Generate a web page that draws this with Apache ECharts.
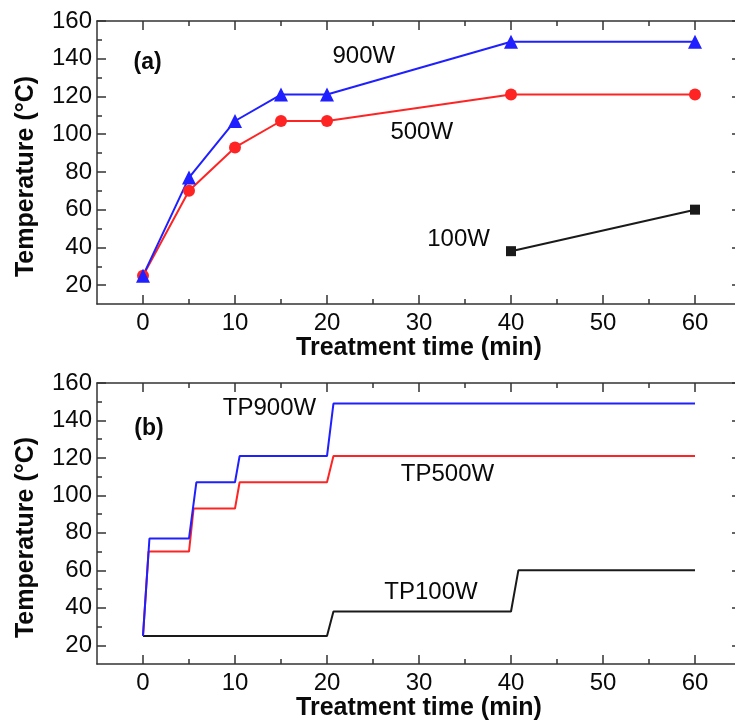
<!DOCTYPE html>
<html>
<head>
<meta charset="utf-8">
<script src="https://cdn.jsdelivr.net/npm/echarts@6/dist/echarts.min.js"></script>
<style>
html, body { margin: 0; padding: 0; background: #fff; }
#chart { width: 735px; height: 728px; }
</style>
</head>
<body>
<div id="chart"></div>
<script>
// ---- tick values ----
let xTicks = [0, 10, 20, 30, 40, 50, 60];
let xMinor = [5, 15, 25, 35, 45, 55];
let yTicks = [20, 40, 60, 80, 100, 120, 140, 160];
let yMinor = [30, 50, 70, 90, 110, 130, 150];

// ---- panel (a): measured temperatures ----
let timeA = [0, 5, 10, 15, 20, 40, 60];
let temp900A = [25, 77, 107, 121, 121, 149, 149];
let temp500A = [25, 70, 93, 107, 107, 121, 121];
let time100A = [40, 60];
let temp100A = [38, 60];

// ---- panel (b): temperature profiles ----
let time900B = [0, 0.7, 5, 5.8, 10, 10.5, 20, 20.7, 60];
let temp900B = [25, 77, 77, 107, 107, 121, 121, 149, 149];
let time500B = [0, 0.6, 5, 5.5, 10, 10.5, 20, 20.7, 60];
let temp500B = [25, 70, 70, 93, 93, 107, 107, 121, 121];
let time100B = [0, 20, 20.7, 40, 40.8, 60];
let temp100B = [25, 25, 38, 38, 60, 60];

let font = 'Liberation Sans, Arial, sans-serif';
let frame = { color: '#333', width: 1.5 };
let blue = '#1f1fff';
let red = '#ff2424';
let black = '#1a1a1a';

function zip(xs, ys) {
  return xs.map((x, i) => [x, ys[i]]);
}

// four x axes and four y axes per grid: main + minor ticks on each side
function xAxes(g, nameGap) {
  let base = { type: 'value', gridIndex: g, min: -5, max: 65, splitLine: { show: false } };
  return [
    Object.assign({}, base, {
      position: 'bottom',
      axisLine: { onZero: false, lineStyle: frame },
      axisTick: { inside: true, length: 9, customValues: xTicks, lineStyle: frame },
      axisLabel: { customValues: xTicks, fontSize: 24, fontFamily: font, color: '#0a0a0a', margin: 7 },
      name: 'Treatment time (min)', nameLocation: 'middle', nameGap: nameGap,
      nameTextStyle: { fontSize: 25, fontWeight: 'bold', fontFamily: font, color: '#0a0a0a' }
    }),
    Object.assign({}, base, {
      position: 'bottom', axisLine: { show: false, onZero: false }, axisLabel: { show: false },
      axisTick: { inside: true, length: 5, customValues: xMinor, lineStyle: frame }
    }),
    Object.assign({}, base, {
      position: 'top', axisLine: { onZero: false, lineStyle: frame }, axisLabel: { show: false },
      axisTick: { inside: true, length: 9, customValues: xTicks, lineStyle: frame }
    }),
    Object.assign({}, base, {
      position: 'top', axisLine: { show: false, onZero: false }, axisLabel: { show: false },
      axisTick: { inside: true, length: 5, customValues: xMinor, lineStyle: frame }
    })
  ];
}

function yAxes(g) {
  let base = { type: 'value', gridIndex: g, min: 10, max: 160, splitLine: { show: false } };
  return [
    Object.assign({}, base, {
      position: 'left',
      axisLine: { onZero: false, lineStyle: frame },
      axisTick: { inside: true, length: 9, customValues: yTicks, lineStyle: frame },
      axisLabel: { customValues: yTicks, fontSize: 24, fontFamily: font, color: '#0a0a0a', margin: 5 },
      name: 'Temperature (°C)', nameLocation: 'middle', nameGap: 58,
      nameTextStyle: { fontSize: 25, fontWeight: 'bold', fontFamily: font, color: '#0a0a0a', padding: [0, 28, 0, 0] }
    }),
    Object.assign({}, base, {
      position: 'left', axisLine: { show: false, onZero: false }, axisLabel: { show: false },
      axisTick: { inside: true, length: 5, customValues: yMinor, lineStyle: frame }
    }),
    Object.assign({}, base, {
      position: 'right', axisLine: { onZero: false, lineStyle: frame }, axisLabel: { show: false },
      axisTick: { inside: true, length: 9, customValues: yTicks, lineStyle: frame }
    }),
    Object.assign({}, base, {
      position: 'right', axisLine: { show: false, onZero: false }, axisLabel: { show: false },
      axisTick: { inside: true, length: 5, customValues: yMinor, lineStyle: frame }
    })
  ];
}

function lineSeries(g, data, color, symbol, size) {
  return {
    type: 'line', xAxisIndex: 4 * g, yAxisIndex: 4 * g,
    data: data, color: color,
    symbol: symbol || 'none', symbolSize: size || 0,
    showSymbol: !!symbol,
    lineStyle: { width: 2, color: color },
    itemStyle: { color: color },
    animation: false, z: 3
  };
}

function textSeries(g, items) {
  return {
    type: 'scatter', xAxisIndex: 4 * g, yAxisIndex: 4 * g,
    symbolSize: 1, itemStyle: { color: 'rgba(0,0,0,0)', opacity: 1 },
    silent: true, animation: false, z: 5,
    label: {
      show: true, position: 'inside', color: '#0a0a0a', fontFamily: font,
      opacity: 1, textBorderWidth: 0,
      formatter: p => p.name
    },
    data: items
  };
}

let myChart = echarts.init(document.getElementById('chart'));

let option = {
  backgroundColor: '#fff',
  grid: [
    { left: 97, top: 21, right: -6, height: 283, outerBoundsMode: 'none' },
    { left: 97, top: 383, right: -6, height: 281, outerBoundsMode: 'none' }
  ],
  xAxis: xAxes(0, 32).concat(xAxes(1, 24)),
  yAxis: yAxes(0).concat(yAxes(1)),
  series: [
    lineSeries(0, zip(time100A, temp100A), black, 'rect', 10),
    lineSeries(0, zip(timeA, temp500A), red, 'circle', 12),
    lineSeries(0, zip(timeA, temp900A), blue, 'triangle', 14),
    textSeries(0, [
      { name: '(a)', value: [0.5, 138], label: { fontSize: 23, fontWeight: 'bold' } },
      { name: '900W', value: [24, 141], label: { fontSize: 24 } },
      { name: '500W', value: [30.3, 101], label: { fontSize: 24 } },
      { name: '100W', value: [34.3, 44.5], label: { fontSize: 24 } }
    ]),
    lineSeries(1, zip(time100B, temp100B), black),
    lineSeries(1, zip(time500B, temp500B), red),
    lineSeries(1, zip(time900B, temp900B), blue),
    textSeries(1, [
      { name: '(b)', value: [0.65, 135.5], label: { fontSize: 23, fontWeight: 'bold' } },
      { name: 'TP900W', value: [13.75, 146.7], label: { fontSize: 24 } },
      { name: 'TP500W', value: [33.1, 111.3], label: { fontSize: 24 } },
      { name: 'TP100W', value: [31.3, 48.1], label: { fontSize: 24 } }
    ])
  ]
};

myChart.setOption(option);
</script>
</body>
</html>
